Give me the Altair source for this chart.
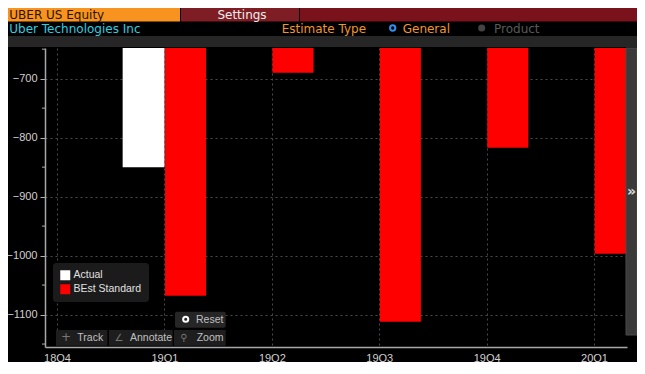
import altair as alt
import pandas as pd

# ---------------- data ----------------
quarters = ["18Q4", "19Q1", "19Q2", "19Q3", "19Q4", "20Q1"]
actual = [None, -850, None, None, None, None]
best_standard = [None, -1068, -690, -1112, -817, -997]
series_names = ["Actual", "BEst Standard"]
series_colors = ["#ffffff", "#ff0000"]
y_major = [-1100, -1000, -900, -800, -700]
y_minor = [-1150, -1050, -950, -850, -750, -650]

rows = []
for i, q in enumerate(quarters):
    if actual[i] is not None:
        rows.append({"quarter": q, "idx": i, "series": series_names[0], "value": actual[i], "side": -1})
    if best_standard[i] is not None:
        rows.append({"quarter": q, "idx": i, "series": series_names[1], "value": best_standard[i], "side": 1})
df = pd.DataFrame(rows)

label_expr = "[" + ",".join("'%s'" % q for q in quarters) + "][datum.value]"

W, H = 582, 299
AX_FONT = "Liberation Sans"
HD_FONT = "DejaVu Sans"

x_scale = alt.Scale(domain=[-0.112, 5.307], nice=False, zero=False)
y_scale = alt.Scale(domain=[-1155, -648], nice=False, zero=False)

y_axis = alt.Axis(values=y_major, format="d", labelColor="#d0d0d0", labelFontSize=11, labelFont=AX_FONT,
                  tickSize=5, tickColor="#b0b0b0", labelPadding=3,
                  domainColor="#a8a8a8", domainWidth=1.5,
                  grid=True, gridColor="#4a4a4a", gridDash=[2, 3], gridWidth=1)
x_axis = alt.Axis(values=list(range(len(quarters))), labelExpr=label_expr,
                  labelColor="#d0d0d0", labelFontSize=11, labelFont=AX_FONT,
                  ticks=False, labelPadding=5, domainColor="#a8a8a8", domainWidth=1.5,
                  grid=True, gridColor="#4a4a4a", gridDash=[2, 3], gridWidth=1)

bars = alt.Chart(df).transform_calculate(
    x0="datum.side < 0 ? datum.idx - 0.389 : datum.idx + 0.006",
    x1="datum.side < 0 ? datum.idx : datum.idx + 0.388",
).mark_bar(clip=True).encode(
    x=alt.X("x0:Q", scale=x_scale, title=None, axis=x_axis),
    x2="x1:Q",
    y=alt.Y("value:Q", scale=y_scale, title=None, axis=y_axis),
    y2=alt.value(0),
    color=alt.Color("series:N", scale=alt.Scale(domain=series_names, range=series_colors),
                    legend=alt.Legend(title=None, orient="none", legendX=8, legendY=215,
                                      fillColor="#1b1b1b", padding=7, cornerRadius=3,
                                      symbolType="square", symbolSize=100, symbolStrokeWidth=0,
                                      labelColor="#e0e0e0", labelFontSize=10.5, labelFont=AX_FONT,
                                      rowPadding=3, labelOffset=3)),
)

minor = alt.Chart(pd.DataFrame({"value": y_minor})).mark_rule(color="#b0b0b0").encode(
    y=alt.Y("value:Q", scale=y_scale, title=None, axis=y_axis),
    x=alt.value(-3), x2=alt.value(0),
)

dummy = pd.DataFrame({"a": [0]})


def rect(x1, x2, y1, y2, color, stroke=None, radius=0):
    kw = dict(color=color, cornerRadius=radius)
    if stroke:
        kw.update(stroke=stroke, strokeWidth=1)
    return alt.Chart(dummy).mark_rect(**kw).encode(
        x=alt.value(x1), x2=alt.value(x2), y=alt.value(y1), y2=alt.value(y2))


def text(x, y, s, color, size, font=AX_FONT, align="left", weight="normal", baseline="alphabetic"):
    return alt.Chart(dummy).mark_text(text=s, align=align, baseline=baseline, color=color,
                                      fontSize=size, font=font, fontWeight=weight).encode(
        x=alt.value(x), y=alt.value(y))


def dot(x, y, color, filled, size):
    return alt.Chart(dummy).mark_point(shape="circle", filled=filled, color=color, size=size,
                                       strokeWidth=2, opacity=1).encode(x=alt.value(x), y=alt.value(y))


header = [
    rect(-37, 135, -40, -26.5, "#f7931e"),
    text(-35.7, -38.3, "UBER US Equity", "#2a1400", 12, HD_FONT, baseline="top"),
    rect(136, 254, -40, -26.5, "#7f1d24"),
    text(197, -38.3, "Settings", "#eeeeee", 12, HD_FONT, align="center", baseline="top"),
    rect(255, 600, -40, -26.5, "#7a121c"),
    text(-35.7, -15.5, "Uber Technologies Inc", "#2ccfe3", 12, HD_FONT),
    text(236.7, -15.5, "Estimate Type", "#f0962a", 12, HD_FONT),
    dot(347.7, -20, "#2f8ef0", False, 28),
    text(357.7, -15.5, "General", "#f0962a", 12, HD_FONT),
    dot(436.7, -20, "#444444", True, 50),
    text(449, -15.5, "Product", "#5a5a5a", 12, HD_FONT),
    rect(-37, 600, -12, -1, "#262626"),
]

widgets = [
    rect(581, 592, 0, 287, "#3a3a3a", stroke="#4a4a4a"),
    text(586.5, 148, "»", "#dddddd", 14, HD_FONT, align="center", weight="bold"),
    rect(130, 180.7, 263.7, 279.7, "#262626", radius=2),
    dot(140.7, 271.3, "#ffffff", False, 26),
    text(151, 275.3, "Reset", "#c0c0c0", 10.5),
    rect(11, 62.3, 282, 297.7, "#1e1e1e"),
    rect(64, 127.7, 282, 297.7, "#1e1e1e"),
    rect(129, 180.7, 282, 297.7, "#1e1e1e"),
    text(21, 293, "+", "#777777", 12, HD_FONT, align="center"),
    text(32.3, 293, "Track", "#c0c0c0", 10.5),
    text(74, 293, "∠", "#777777", 10, HD_FONT, align="center"),
    text(85, 293, "Annotate", "#c0c0c0", 10.5),
    text(139, 293, "⚲", "#777777", 10, HD_FONT, align="center"),
    text(151.7, 293, "Zoom", "#c0c0c0", 10.5),
]

chart = alt.layer(bars, minor, *header, *widgets).properties(
    width=W, height=H,
    padding={"left": 37, "top": 40, "right": 10, "bottom": 15},
    autosize=alt.AutoSizeParams(type="none"),
).configure(background="#000000").configure_view(stroke=None)

chart.save("out.html", embed_options={"renderer": "svg", "actions": False})
